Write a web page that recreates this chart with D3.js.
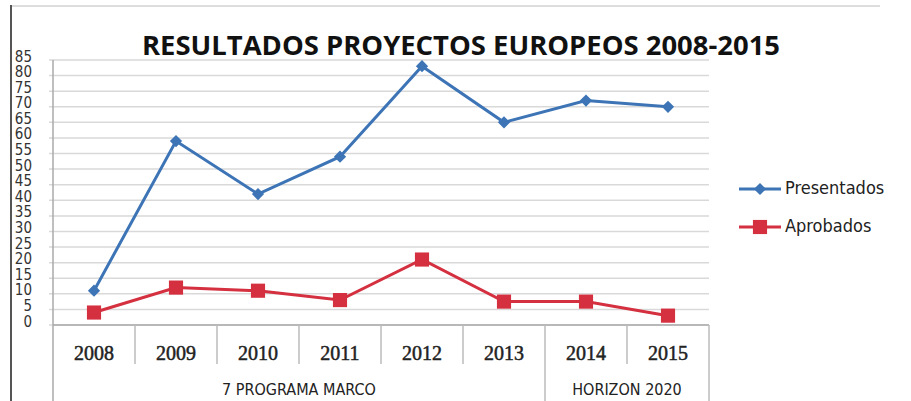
<!DOCTYPE html>
<html>
<head>
	<meta charset="UTF-8" />
	<title>Resultados proyectos europeos</title>
	<script src="https://cdn.jsdelivr.net/npm/d3@7"></script>
	<style>
		body { margin:0; background:#fff; }
		svg { display:block; }
	</style>
</head>
<body>
	<div id="chart"></div>
	<script type="text/javascript">
		// data
		var years = ["2008","2009","2010","2011","2012","2013","2014","2015"];
		var presentados = [11, 59, 42, 54, 83, 65, 72, 70];
		var aprobados = [4, 12, 11, 8, 21, 7.5, 7.5, 3];
		var yTicks = [0,5,10,15,20,25,30,35,40,45,50,55,60,65,70,75,80,85];
		var groups = [
			{name:"7 PROGRAMA MARCO", from:"2008", to:"2013"},
			{name:"HORIZON 2020", from:"2014", to:"2015"}
		];
		var series = [
			{name:"Presentados", values:presentados, color:"#3c74b6", marker:"diamond"},
			{name:"Aprobados", values:aprobados, color:"#d4303f", marker:"square"}
		];

		var W = 911, H = 401;
		// plot box (note: "top" is taken by window.top)
		var pL = 53, pR = 709, pT = 60, pB = 325;

		var svg = d3.select("#chart").append("svg")
			.attr("width",W).attr("height",H);

		// outer frame bits
		svg.append("line").attr("x1",11).attr("x2",11).attr("y1",5).attr("y2",H)
			.attr("stroke","#555").attr("stroke-width",2);
		svg.append("line").attr("x1",12).attr("x2",880).attr("y1",6).attr("y2",6)
			.attr("stroke","#ddd").attr("stroke-width",2);

		var x = d3.scaleBand().domain(years).range([pL,pR]);
		var y = d3.scaleLinear().domain([0,85]).range([pB,pT]);

		// grid
		svg.append("g").selectAll("line").data(yTicks).enter().append("line")
			.attr("x1",pL-4).attr("x2",pR)
			.attr("y1",function(d){return y(d);}).attr("y2",function(d){return y(d);})
			.attr("stroke","#d9d9d9").attr("stroke-width",1.5);

		// y labels (squashed like the original)
		svg.append("g").selectAll("text").data(yTicks).enter().append("text")
			.attr("x",32).attr("y",function(d){return y(d)-3;})
			.attr("text-anchor","end")
			.attr("font-family","'Liberation Sans Narrow','DejaVu Sans Condensed',sans-serif")
			.attr("font-size",15).attr("fill","#333")
			.attr("dominant-baseline","middle")
			.text(function(d){return d;});

		// plot borders
		svg.append("line").attr("x1",pL).attr("x2",pL).attr("y1",pT).attr("y2",H)
			.attr("stroke","#aaa").attr("stroke-width",1.5);
		svg.append("line").attr("x1",pL).attr("x2",pR).attr("y1",pB).attr("y2",pB)
			.attr("stroke","#aaa").attr("stroke-width",1.5);

		// category dividers
		svg.append("g").selectAll("line").data(years.slice(1)).enter().append("line")
			.attr("x1",function(d){return x(d);}).attr("x2",function(d){return x(d);})
			.attr("y1",pB).attr("y2",function(d){return d==="2014" ? H : 364;})
			.attr("stroke","#bbb").attr("stroke-width",1.5);
		svg.append("line").attr("x1",pR).attr("x2",pR).attr("y1",pB).attr("y2",H)
			.attr("stroke","#bbb").attr("stroke-width",1.5);

		svg.append("g").selectAll("text").data(years).enter().append("text")
			.attr("x",function(d){return x(d)+x.bandwidth()/2;})
			.attr("y",360)
			.attr("text-anchor","middle")
			.attr("font-family","'Liberation Serif',serif")
			.attr("font-size",20).attr("fill","#222")
			.attr("stroke","#222").attr("stroke-width",0.5)
			.text(function(d){return d;});

		svg.append("g").selectAll("text").data(groups).enter().append("text")
			.attr("x",function(g){return (x(g.from)+x(g.to)+x.bandwidth())/2;})
			.attr("y",395)
			.attr("text-anchor","middle")
			.attr("font-family","'Liberation Sans Narrow','DejaVu Sans Condensed',sans-serif")
			.attr("font-size",16).attr("fill","#222")
			.text(function(g){return g.name;});

		// lines
		var line = d3.line()
			.x(function(d,i){return x(years[i])+x.bandwidth()/2;})
			.y(function(d){return y(d);});

		// square rotated 45deg for the diamond, like the spreadsheet marker
		var markerPath = function(type){
			return type==="diamond" ? d3.symbol().type(d3.symbolSquare).size(75)()
				: d3.symbol().type(d3.symbolSquare).size(200)();
		};
		var markerRot = function(type){ return type==="diamond" ? " rotate(45)" : ""; };

		series.forEach(function(s){
			svg.append("path").datum(s.values)
				.attr("d",line).attr("fill","none")
				.attr("stroke",s.color).attr("stroke-width",3);
			svg.append("g").selectAll("path").data(s.values).enter().append("path")
				.attr("d",markerPath(s.marker))
				.attr("transform",function(d,i){return "translate("+(x(years[i])+x.bandwidth()/2)+","+y(d)+")"+markerRot(s.marker);})
				.attr("fill",s.color);
		});

		// legend
		var lg = svg.append("g").selectAll("g").data(series).enter().append("g")
			.attr("transform",function(s,i){return "translate(739,"+(189+i*38)+")";});
		lg.append("line").attr("x1",0).attr("x2",42).attr("y1",0).attr("y2",0)
			.attr("stroke",function(s){return s.color;}).attr("stroke-width",3);
		lg.append("path").attr("d",function(s){return markerPath(s.marker);})
			.attr("transform",function(s){return "translate(21,0)"+markerRot(s.marker);})
			.attr("fill",function(s){return s.color;});
		lg.append("text").attr("x",46).attr("y",0).attr("dominant-baseline","middle")
			.attr("font-family","'Liberation Sans Narrow','DejaVu Sans Condensed',sans-serif")
			.attr("font-size",18).attr("fill","#222")
			.text(function(s){return s.name;});

		// title
		svg.append("text").attr("x",461).attr("y",55)
			.attr("text-anchor","middle")
			.attr("font-family","'Open Sans',sans-serif").attr("font-weight","bold")
			.attr("font-size",26).attr("fill","#111")
			.attr("textLength",638).attr("lengthAdjust","spacingAndGlyphs")
			.text("RESULTADOS PROYECTOS EUROPEOS 2008-2015");
	</script>
</body>
</html>
